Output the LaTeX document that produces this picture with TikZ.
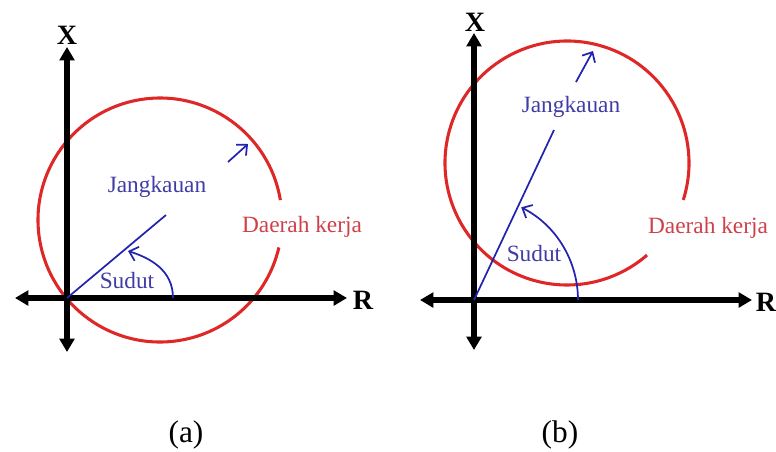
\documentclass[tikz,border=0pt]{standalone}
\usepackage{fontspec}
\setmainfont{Liberation Serif}
\usepackage{tikz}
\usetikzlibrary{arrows.meta}
\definecolor{zonered}{RGB}{222,40,40}
\definecolor{zonetext}{RGB}{205,65,75}
\definecolor{reachblue}{RGB}{35,35,175}
\definecolor{reachtext}{RGB}{65,60,165}
\tikzstyle{axis} = [line width=3.8pt, {Triangle[length=10pt,width=11pt]}-{Triangle[length=10pt,width=11pt]}]
\tikzstyle{zone} = [draw=zonered, line width=2.3pt]
\tikzstyle{reach} = [draw=reachblue, line width=1.3pt]
\tikzstyle{pointer} = [reach, -{Straight Barb[length=6pt,width=11pt]}]
\tikzstyle{axlabel} = [font=\fontsize{21}{21}\selectfont\bfseries, inner sep=0pt]
\tikzstyle{bluelabel} = [text=reachtext, font=\fontsize{17.5}{20}\selectfont, inner sep=0pt]
\tikzstyle{redlabel} = [text=zonetext, font=\fontsize{17.5}{20}\selectfont, inner sep=0pt]
\tikzstyle{caption} = [font=\fontsize{23.5}{26}\selectfont, inner sep=0pt]

\begin{document}
\begin{tikzpicture}[x=0.75pt, y=-0.75pt]
\useasboundingbox (0,0) rectangle (776,451);

% (a)
\coordinate (oa) at (67,298);
\coordinate (xatop) at (67,47);
\coordinate (xabot) at (67,352);
\coordinate (raleft) at (15,298);
\coordinate (raright) at (347,298);
\coordinate (ja) at (166,215);
\coordinate (pa1) at (228,162);
\coordinate (pa2) at (248,144);
\coordinate (sa1) at (173,298);
\coordinate (sa2) at (128,251);

\node (xa)  [axlabel] at (67,35) {X};
\node (ra)  [axlabel] at (363,300) {R};
\node (jla) [bluelabel] at (157,187) {Jangkauan};
\node (sla) [bluelabel] at (127,281) {Sudut};
\node (dla) [redlabel] at (302,227) {Daerah kerja};
\node (capa) [caption] at (186,435) {(a)};

\draw[zone] (160,220) ++(-9.4:122) arc[start angle=-9.4, end angle=-347, radius=122];
\draw[axis] (xatop) -- (xabot);
\draw[axis] (raleft) -- (raright);
\draw[reach] (oa) -- (ja);
\draw[pointer] (pa1) -- (pa2);
\draw[pointer] (sa1) .. controls (173,270) and (150,258) .. (sa2);

% (b)
\coordinate (ob) at (474,300);
\coordinate (xbtop) at (474,33);
\coordinate (xbbot) at (474,350);
\coordinate (rbleft) at (420,300);
\coordinate (rbright) at (752,300);
\coordinate (jb) at (554,130);
\coordinate (pb1) at (576,82);
\coordinate (pb2) at (593,51);
\coordinate (sb1) at (578,300);

\node (xb)  [axlabel] at (475,22) {X};
\node (rb)  [axlabel] at (766,302) {R};
\node (jlb) [bluelabel] at (571,107) {Jangkauan};
\node (slb) [bluelabel] at (534,254) {Sudut};
\node (dlb) [redlabel] at (708,228) {Daerah kerja};
\node (capb) [caption] at (560,435) {(b)};

\draw[zone] (567,163) ++(17.6:122) arc[start angle=17.6, end angle=-311, radius=122];
\draw[axis] (xbtop) -- (xbbot);
\draw[axis] (rbleft) -- (rbright);
\draw[reach] (ob) -- (jb);
\draw[pointer] (pb1) -- (pb2);
\draw[pointer] (sb1) arc[start angle=0, end angle=-63, radius=104];

\end{tikzpicture}
\end{document}
